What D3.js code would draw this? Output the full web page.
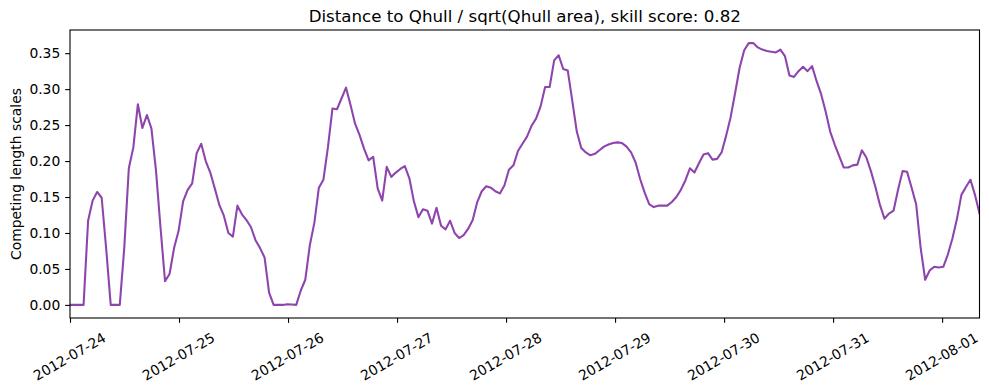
<!DOCTYPE html>
<html>
<head>
<meta charset="utf-8">
<script src="https://cdn.jsdelivr.net/npm/d3@7"></script>
<style>
  body { margin: 0; background: #fff; }
  text { font-family: "DejaVu Sans", sans-serif; fill: #000; }
</style>
</head>
<body>
<div id="chart"></div>

<script type="text/javascript">
  var title = "Distance to Qhull / sqrt(Qhull area), skill score: 0.82";
  var yLabel = "Competing length scales";

  // series: one value roughly every hour from 2012-07-24 00:00
  var startTime = new Date(2012, 6, 24, 0, 0);
  var stepMinutes = 59.77;
  var values = [
    0, 0, 0, 0, 0.117, 0.145, 0.157, 0.149, 0.078, 0,
    0, 0, 0.08, 0.190, 0.219, 0.279, 0.246, 0.264, 0.245, 0.187,
    0.108, 0.033, 0.043, 0.079, 0.103, 0.144, 0.160, 0.169, 0.211, 0.224,
    0.200, 0.184, 0.162, 0.139, 0.124, 0.100, 0.095, 0.138, 0.126, 0.118,
    0.108, 0.090, 0.079, 0.066, 0.017, 0, 0, 0, 0.001, 0.0005,
    0, 0.020, 0.035, 0.083, 0.114, 0.163, 0.174, 0.219, 0.273, 0.272,
    0.287, 0.302, 0.278, 0.252, 0.236, 0.217, 0.201, 0.206, 0.162, 0.145,
    0.192, 0.178, 0.184, 0.189, 0.193, 0.176, 0.144, 0.122, 0.133, 0.131,
    0.113, 0.135, 0.110, 0.105, 0.117, 0.100, 0.093, 0.097, 0.106, 0.118,
    0.143, 0.158, 0.165, 0.163, 0.158, 0.155, 0.166, 0.188, 0.194, 0.214,
    0.224, 0.234, 0.249, 0.259, 0.276, 0.303, 0.303, 0.340, 0.347, 0.328,
    0.326, 0.284, 0.241, 0.218, 0.212, 0.208, 0.210, 0.215, 0.220, 0.223,
    0.225, 0.226, 0.225, 0.220, 0.212, 0.198, 0.175, 0.156, 0.140, 0.136,
    0.138, 0.138, 0.138, 0.143, 0.150, 0.160, 0.173, 0.190, 0.184, 0.197,
    0.209, 0.211, 0.202, 0.203, 0.212, 0.235, 0.261, 0.295, 0.330, 0.354,
    0.364, 0.364, 0.358, 0.355, 0.353, 0.352, 0.351, 0.355, 0.346, 0.319,
    0.317, 0.325, 0.331, 0.325, 0.332, 0.311, 0.293, 0.269, 0.241, 0.223,
    0.207, 0.191, 0.191, 0.194, 0.195, 0.215, 0.205, 0.186, 0.164, 0.139,
    0.120, 0.127, 0.131, 0.160, 0.186, 0.185, 0.163, 0.140, 0.079, 0.035,
    0.048, 0.053, 0.052, 0.053, 0.070, 0.092, 0.119, 0.153, 0.164, 0.174,
    0.153, 0.127
  ];

  var tickLabels = ["2012-07-24", "2012-07-25", "2012-07-26", "2012-07-27", "2012-07-28",
                    "2012-07-29", "2012-07-30", "2012-07-31", "2012-08-01"];
  var yTicks = [0, 0.05, 0.10, 0.15, 0.20, 0.25, 0.30, 0.35];

  var width = 989, height = 390;
  var plotLeft = 70, plotRight = 979.5, plotTop = 30, plotBottom = 318;
  var fontSize = 13.89;

  var data = values.map(function (v, i) {
    return { t: new Date(startTime.getTime() + i * stepMinutes * 60000), v: v };
  });

  var parseDay = d3.timeParse("%Y-%m-%d");

  var svg = d3.select("#chart").append("svg")
      .attr("width", width)
      .attr("height", height);

  var x = d3.scaleTime()
      .domain([data[0].t, data[data.length - 1].t])
      .range([plotLeft, plotRight]);

  var y = d3.scaleLinear()
      .domain([-0.0182, 0.3822])
      .range([plotBottom, plotTop]);

  svg.append("clipPath").attr("id", "clip")
    .append("rect")
      .attr("x", plotLeft).attr("y", plotTop)
      .attr("width", plotRight - plotLeft).attr("height", plotBottom - plotTop);

  // the line
  var line = d3.line()
      .x(function (d) { return x(d.t); })
      .y(function (d) { return y(d.v); });

  svg.append("path")
      .datum(data)
      .attr("clip-path", "url(#clip)")
      .attr("fill", "none")
      .attr("stroke", "#8e44ad")
      .attr("stroke-width", 2.08)
      .attr("stroke-linejoin", "round")
      .attr("stroke-linecap", "square")
      .attr("d", line);

  // x axis
  var xAxis = svg.append("g")
      .attr("transform", "translate(0," + plotBottom + ")")
      .call(d3.axisBottom(x)
        .tickValues(tickLabels.map(parseDay))
        .tickSize(4.86)
        .tickFormat(d3.timeFormat("%Y-%m-%d")));
  xAxis.select(".domain").remove();
  xAxis.selectAll("line").attr("stroke-width", 1.1);
  xAxis.selectAll("text")
      .attr("y", null)
      .attr("dy", null)
      .attr("font-size", fontSize)
      .attr("font-family", "DejaVu Sans, sans-serif")
      .attr("text-anchor", "middle")
      .attr("dominant-baseline", "central")
      .attr("transform", "translate(-1,38.5) rotate(-30)");

  // y axis
  var yAxis = svg.append("g")
      .attr("transform", "translate(" + plotLeft + ",0)")
      .call(d3.axisLeft(y)
        .tickValues(yTicks)
        .tickSize(4.86)
        .tickPadding(4.86)
        .tickFormat(d3.format(".2f")));
  yAxis.select(".domain").remove();
  yAxis.selectAll("line").attr("stroke-width", 1.1);
  yAxis.selectAll("text")
      .attr("font-size", fontSize)
      .attr("font-family", "DejaVu Sans, sans-serif");

  // frame
  svg.append("rect")
      .attr("x", plotLeft).attr("y", plotTop)
      .attr("width", plotRight - plotLeft).attr("height", plotBottom - plotTop)
      .attr("fill", "none")
      .attr("stroke", "#000")
      .attr("stroke-width", 1.1);

  svg.append("text")
      .attr("x", (plotLeft + plotRight) / 2)
      .attr("y", 21.7)
      .attr("text-anchor", "middle")
      .attr("font-size", 16.67)
      .text(title);

  svg.append("text")
      .attr("transform", "translate(15.5," + (plotTop + plotBottom) / 2 + ") rotate(-90)")
      .attr("text-anchor", "middle")
      .attr("dominant-baseline", "central")
      .attr("font-size", fontSize)
      .text(yLabel);
</script>
</body>
</html>
